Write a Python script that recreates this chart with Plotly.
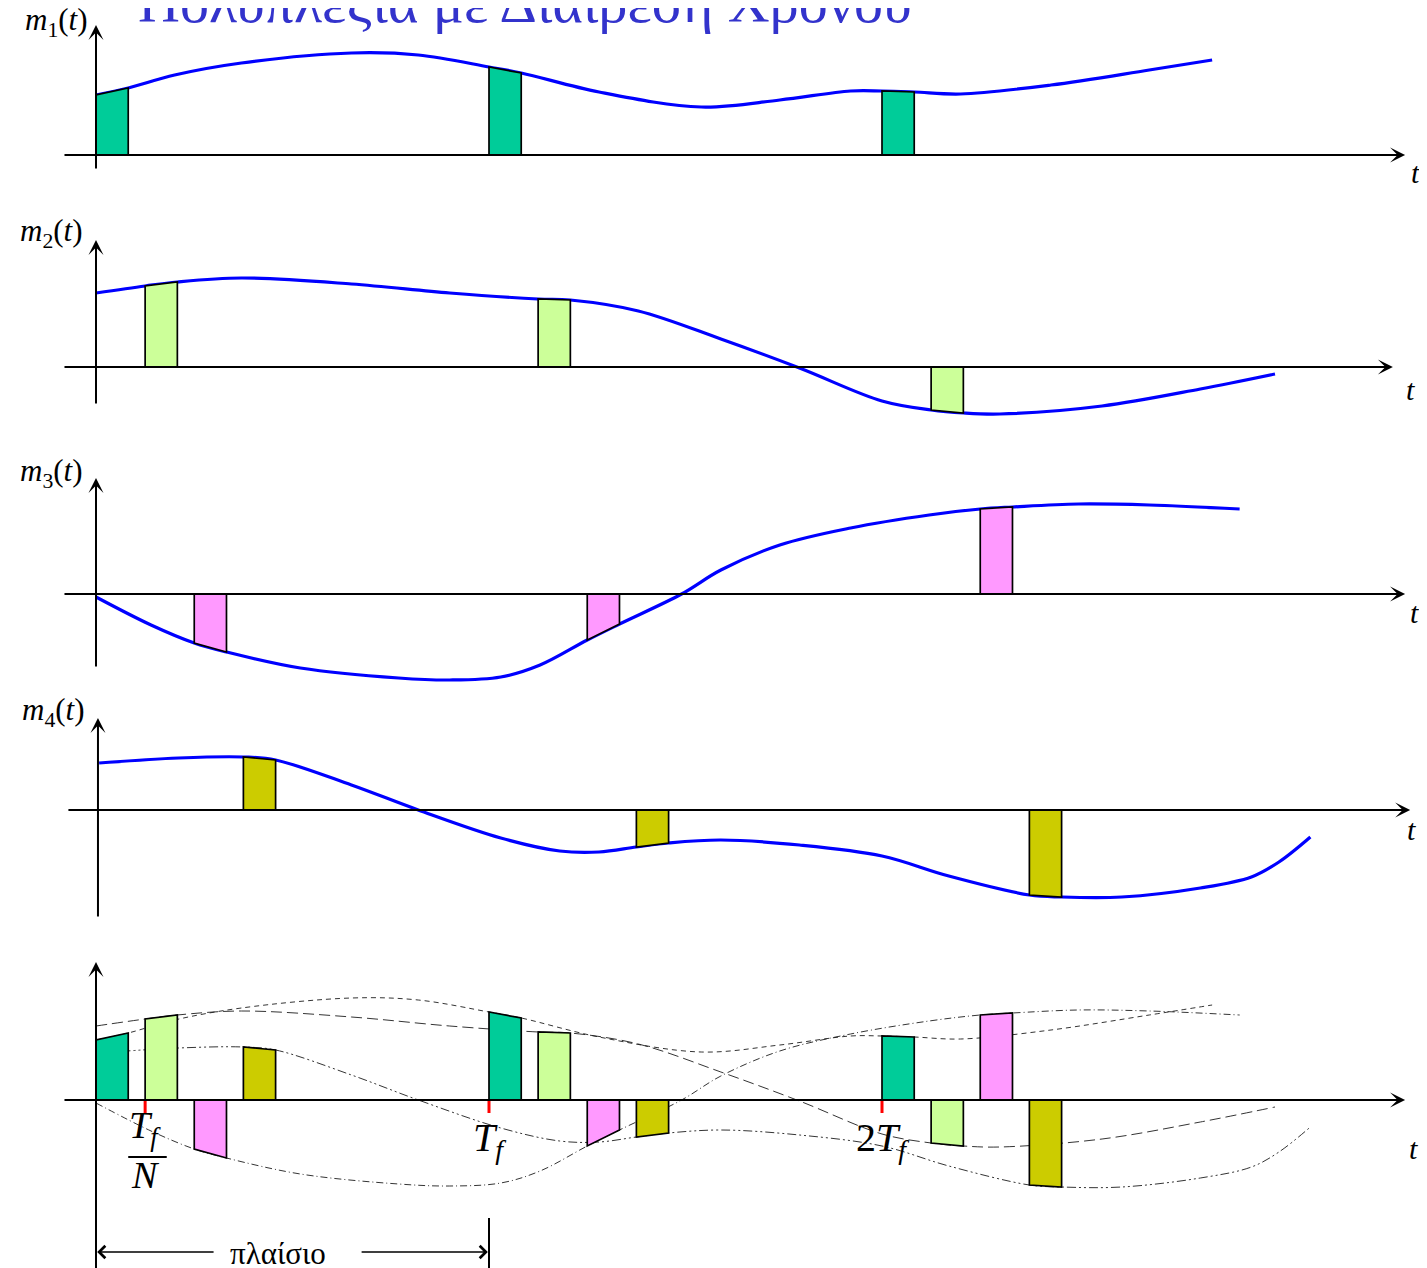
import numpy as np
import plotly.graph_objects as go

# ---------------- data (time in units of Tf, amplitude in arbitrary units) ----------------
m1_t = [0, 0.082, 0.20, 0.37, 0.65, 0.82, 1.0, 1.082, 1.28, 1.54, 1.74, 1.92, 2.0, 2.082, 2.2, 2.43, 2.68, 2.84]
m1_v = [0.60, 0.67, 0.80, 0.92, 1.02, 1.00, 0.88, 0.82, 0.63, 0.48, 0.55, 0.64, 0.64, 0.63, 0.61, 0.70, 0.85, 0.95]

m2_t = [0, 0.125, 0.207, 0.37, 0.65, 0.9, 1.125, 1.207, 1.38, 1.59, 1.79, 2.0, 2.125, 2.207, 2.3, 2.56, 2.81, 3.0]
m2_v = [0.74, 0.81, 0.85, 0.89, 0.83, 0.74, 0.68, 0.67, 0.56, 0.28, -0.01, -0.34, -0.43, -0.46, -0.47, -0.39, -0.22, -0.07]

m3_t = [0, 0.14, 0.25, 0.332, 0.52, 0.77, 0.9, 1.03, 1.13, 1.25, 1.332, 1.49, 1.59, 1.74, 1.92, 2.12, 2.25, 2.332, 2.5, 2.68, 2.91]
m3_v = [-0.03, -0.31, -0.49, -0.58, -0.74, -0.84, -0.86, -0.83, -0.71, -0.46, -0.30, 0.0, 0.24, 0.49, 0.66, 0.79, 0.85, 0.87, 0.90, 0.89, 0.85]

m4_t = [0.008, 0.21, 0.375, 0.457, 0.65, 0.82, 1.03, 1.18, 1.28, 1.375, 1.457, 1.59, 1.79, 2.0, 2.17, 2.375, 2.457, 2.61, 2.81, 2.94, 3.01, 3.09]
m4_v = [0.47, 0.52, 0.53, 0.50, 0.25, 0.0, -0.28, -0.41, -0.42, -0.37, -0.33, -0.30, -0.35, -0.46, -0.66, -0.85, -0.87, -0.87, -0.78, -0.67, -0.52, -0.27]

frame_starts = [0, 1, 2]               # k*Tf
slot_offsets = [0, 0.125, 0.25, 0.375]  # slot of each signal inside a frame
slot_width = 0.082

tick_vals = [0.125, 1, 2]
tick_text = ["", "<i>T</i><sub><i>f</i></sub>", "2<i>T</i><sub><i>f</i></sub>"]

# ---------------- styles ----------------
fills = ["#00cc99", "#ccff99", "#ff99ff", "#cccc00"]
dashes = ["5px,4px", "11px,5px", "7px,3px,1px,3px", "9px,3px,2px,3px,2px,3px"]
BLUE = "#0000ff"
SERIF = "Liberation Serif"

W, H = 1427, 1268
OFF = 8                      # page offset of the figure inside the browser window
T0_PX, TF_PX, UNIT_PX = 96, 393, 100
# (top, zero-line, bottom) screen rows of each strip
panels = [(OFF, 155, 200), (200, 367, 440), (440, 594, 690), (690, 810, 940), (940, 1100, H + OFF)]

signals = [(m1_t, m1_v), (m2_t, m2_v), (m3_t, m3_v), (m4_t, m4_v)]

fig = go.Figure()

def yname(i):
    return "y" if i == 0 else f"y{i+1}"

# blue curves in strips 1-4
for i, (t, v) in enumerate(signals):
    fig.add_trace(go.Scatter(x=t, y=v, mode="lines", xaxis="x", yaxis=yname(i),
                             line=dict(color=BLUE, width=3.2, shape="spline"),
                             hoverinfo="skip", showlegend=False))
# thin dashed curves in the multiplexed strip
for i, (t, v) in enumerate(signals):
    fig.add_trace(go.Scatter(x=t, y=v, mode="lines", xaxis="x", yaxis="y5",
                             line=dict(color="rgba(30,30,30,0.9)", width=1, dash=dashes[i], shape="spline"),
                             hoverinfo="skip", showlegend=False))

# samples
def sample_poly(t, v, ts):
    te = ts + slot_width
    t = np.asarray(t, float)
    v = np.asarray(v, float)
    top_t = [ts] + [x for x in t if ts < x < te] + [te]
    top_v = list(np.interp(top_t, t, v))
    xs = [ts] + top_t + [te, ts]
    ys = [0] + top_v + [0, 0]
    return xs, ys

for i, (t, v) in enumerate(signals):
    for k in frame_starts:
        ts = k + slot_offsets[i]
        xs, ys = sample_poly(t, v, ts)
        for ax in (yname(i), "y5"):
            fig.add_trace(go.Scatter(x=xs, y=ys, mode="lines", fill="toself", fillcolor=fills[i],
                                     xaxis="x", yaxis=ax, line=dict(color="black", width=1.7),
                                     hoverinfo="skip", showlegend=False))

# ---------------- layout: axes mapped to pixel geometry ----------------
layout = dict(
    width=W, height=H, margin=dict(l=0, r=0, t=0, b=0, autoexpand=False),
    paper_bgcolor="white", plot_bgcolor="white", showlegend=False,
    xaxis=dict(range=[(OFF - T0_PX) / TF_PX, (W + OFF - T0_PX) / TF_PX], visible=False,
               domain=[0, 1], fixedrange=True),
)
for i, (top, zero, bot) in enumerate(panels):
    key = "yaxis" if i == 0 else f"yaxis{i+1}"
    layout[key] = dict(domain=[1 - (bot - OFF) / H, 1 - (top - OFF) / H],
                       range=[-(bot - zero) / UNIT_PX, (zero - top) / UNIT_PX],
                       visible=False, anchor="x", fixedrange=True)
fig.update_layout(**layout)

anns = []
shapes = []

def arrow(x, y, ax_, ay_, yref, head=3, width=2, size=1.25):
    anns.append(dict(x=x, y=y, ax=ax_, ay=ay_, xref="x", yref=yref, axref="x", ayref=yref,
                     text="", showarrow=True, arrowhead=head, arrowwidth=width, arrowsize=size,
                     arrowcolor="black", standoff=0, startstandoff=0))

# axes of each strip: (x-tail, x-tip, y-axis position, y-tail, y-tip)
axes_geo = [(-0.084, 3.331, 0.0, -0.15, 1.30),
            (-0.084, 3.300, 0.0, -0.38, 1.27),
            (-0.084, 3.331, 0.0, -0.74, 1.16),
            (-0.074, 3.344, 0.005, -1.08, 0.92),
            (-0.084, 3.331, 0.0, -1.76, 1.38)]
for i, (xt, xh, x0, yt, yh) in enumerate(axes_geo):
    yr = yname(i)
    arrow(xh, 0, xt, 0, yr)
    arrow(x0, yh, x0, yt, yr)

# t labels
t_lab = [(3.357, -0.17), (3.344, -0.23), (3.356, -0.18), (3.347, -0.19), (3.352, -0.48)]
for i, (x, y) in enumerate(t_lab):
    anns.append(dict(x=x, y=y, xref="x", yref=yname(i), text="<i>t</i>", showarrow=False,
                     font=dict(family=SERIF, size=30, color="black")))

# m_i(t) labels
m_lab = [(-0.015, 1.33), (-0.028, 1.34), (-0.028, 1.21), (-0.022, 0.98)]
for i, (x, y) in enumerate(m_lab):
    anns.append(dict(x=x, y=y, xref="x", yref=yname(i), xanchor="right",
                     text=f"<i>m</i><sub>{i+1}</sub>(<i>t</i>)", showarrow=False,
                     font=dict(family=SERIF, size=31, color="black")))

# red ticks and their labels in the multiplexed strip
for tv, tt in zip(tick_vals, tick_text):
    shapes.append(dict(type="line", xref="x", yref="y5", x0=tv, x1=tv, y0=0, y1=-0.13,
                       line=dict(color="red", width=3)))
    if tt:
        anns.append(dict(x=tv, y=-0.40, xref="x", yref="y5", text=tt, showarrow=False,
                         font=dict(family=SERIF, size=40, color="black")))
# Tf / N fraction
anns.append(dict(x=tick_vals[0], y=-0.28, xref="x", yref="y5", text="<i>T</i><sub><i>f</i></sub>",
                 showarrow=False, font=dict(family=SERIF, size=38, color="black")))
anns.append(dict(x=tick_vals[0], y=-0.75, xref="x", yref="y5", text="<i>N</i>",
                 showarrow=False, font=dict(family=SERIF, size=38, color="black")))
shapes.append(dict(type="line", xref="x", yref="y5", x0=0.082, x1=0.18, y0=-0.57, y1=-0.57,
                   line=dict(color="black", width=2)))

# frame bracket
shapes.append(dict(type="line", xref="x", yref="y5", x0=1, x1=1, y0=-1.18, y1=-1.76,
                   line=dict(color="black", width=2)))
arrow(0.003, -1.52, 0.303, -1.52, "y5", head=4, width=1.6, size=1.5)
arrow(0.997, -1.52, 0.672, -1.52, "y5", head=4, width=1.6, size=1.5)
anns.append(dict(x=0.463, y=-1.53, xref="x", yref="y5", text="πλαίσιο", showarrow=False,
                 font=dict(family=SERIF, size=31, color="black")))

# title (cut at the top edge, as in the original)
anns.append(dict(x=(525 - OFF) / W, y=1 + 6 / H, xref="paper", yref="paper",
                 text="Πολυπλεξία με Διαίρεση Χρόνου",
                 showarrow=False, xanchor="center", yanchor="middle",
                 font=dict(family=SERIF, size=58, color="#3333cc")))

fig.update_layout(annotations=anns, shapes=shapes)
fig.write_html("out.html")
